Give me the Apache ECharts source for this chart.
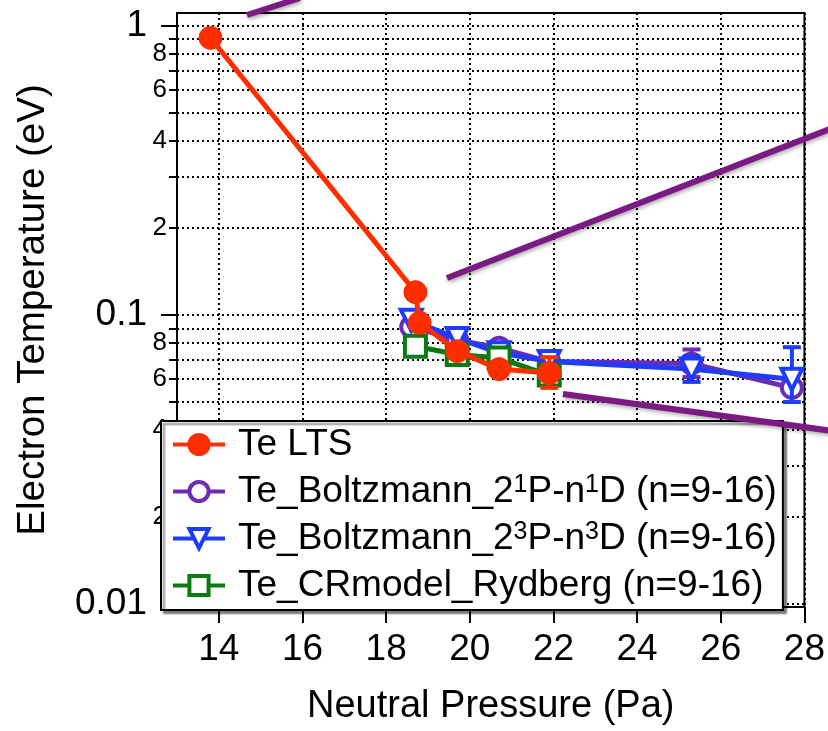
<!DOCTYPE html>
<html>
<head>
<meta charset="utf-8">
<script src="https://cdn.jsdelivr.net/npm/echarts@6/dist/echarts.min.js"></script>
<style>
  html, body { margin: 0; padding: 0; background: #fff; }
  #chart { width: 828px; height: 731px; }
</style>
</head>
<body>
<div id="chart"></div>
<script>
// Electron temperature vs neutral pressure
const pressureLTS = [13.8, 18.7, 18.8, 19.7, 20.7, 21.9];
const teLTS = [0.91, 0.12, 0.094, 0.075, 0.065, 0.063];

const pressureBoltz = [18.6, 19.7, 20.7, 21.9, 25.3, 27.7];
const teBoltzSinglet = [0.091, 0.082, 0.077, 0.069, 0.068, 0.056];
const teBoltzTriplet = [0.096, 0.083, 0.074, 0.069, 0.065, 0.060];

const pressureCR = [18.7, 19.7, 20.7, 21.9];
const teCR = [0.078, 0.073, 0.071, 0.062];

// error bars as [pressure, low, high]
const errLTS = [[21.9, 0.056, 0.0715]];
const errSinglet = [[25.3, 0.061, 0.076]];
const errTriplet = [[25.3, 0.0587, 0.072], [27.7, 0.050, 0.0774]];

const xTicks = [14, 16, 18, 20, 22, 24, 26, 28];
const yMajorTicks = [0.01, 0.1, 1];
const yMinorTicks = [0.02, 0.03, 0.04, 0.05, 0.06, 0.07, 0.08, 0.09,
                     0.2, 0.3, 0.4, 0.5, 0.6, 0.7, 0.8, 0.9];
const yMinorLabels = [0.02, 0.04, 0.06, 0.08, 0.2, 0.4, 0.6, 0.8];

const nameLTS = 'Te LTS';
const nameSinglet = 'Te_Boltzmann_2¹P-n¹D (n=9-16)';
const nameTriplet = 'Te_Boltzmann_2³P-n³D (n=9-16)';
const nameCR = 'Te_CRmodel_Rydberg (n=9-16)';

const legendRich = {};
legendRich[nameLTS] = '{g| }{t|Te LTS}';
legendRich[nameSinglet] = '{g| }{t|Te_Boltzmann_2}{s|1}{t|P-n}{s|1}{t|D (n=9-16)}';
legendRich[nameTriplet] = '{g| }{t|Te_Boltzmann_2}{s|3}{t|P-n}{s|3}{t|D (n=9-16)}';
legendRich[nameCR] = '{g| }{t|Te_CRmodel_Rydberg (n=9-16)}';

const RED = '#ff2e00', PURPLE = '#6a2db4', BLUE = '#1e3cff', GREEN = '#0b7a12';
const FONT = '"Liberation Sans", Arial, sans-serif';

const zip = (xs, ys) => xs.map((x, i) => [x, ys[i]]);

function errorBars(color) {
  return function (params, api) {
    const x = api.value(0);
    const lo = api.coord([x, api.value(1)]);
    const hi = api.coord([x, api.value(2)]);
    const w = 9;
    const style = { stroke: color, lineWidth: 4 };
    return {
      type: 'group',
      children: [
        { type: 'line', shape: { x1: lo[0], y1: lo[1], x2: hi[0], y2: hi[1] }, style },
        { type: 'line', shape: { x1: hi[0] - w, y1: hi[1], x2: hi[0] + w, y2: hi[1] }, style },
        { type: 'line', shape: { x1: lo[0] - w, y1: lo[1], x2: lo[0] + w, y2: lo[1] }, style }
      ]
    };
  };
}

function errSeries(name, data, color, z) {
  return {
    name, type: 'custom', data, z,
    encode: { x: 0, y: [1, 2] },
    renderItem: errorBars(color),
    silent: true
  };
}

const gridDots = { color: '#000', width: 2, type: [2, 3] };

const chart = echarts.init(document.getElementById('chart'), null, { renderer: 'canvas' });
chart.setOption({
  animation: false,
  backgroundColor: '#fff',
  textStyle: { fontFamily: FONT },
  grid: {
    left: 177, right: 22, top: 13, bottom: 122,
    show: true, borderColor: '#000', borderWidth: 2, backgroundColor: 'transparent'
  },
  xAxis: {
    type: 'value', min: 13, max: 28,
    name: 'Neutral Pressure (Pa)', nameLocation: 'middle', nameGap: 81,
    nameTextStyle: { fontFamily: FONT, fontSize: 38, color: '#000' },
    axisLine: { show: true, lineStyle: { color: '#000', width: 2 } },
    axisTick: { show: true, customValues: xTicks, length: 16, lineStyle: { color: '#000', width: 2 } },
    axisLabel: { customValues: xTicks, fontFamily: FONT, fontSize: 37, color: '#000', margin: 24 },
    splitLine: { show: true, lineStyle: gridDots }
  },
  yAxis: [
    {
      type: 'log', min: 0.00977, max: 1.109, logBase: 10,
      name: 'Electron Temperature (eV)', nameLocation: 'middle', nameGap: 124, nameRotate: 90,
      nameTextStyle: { fontFamily: FONT, fontSize: 38.5, color: '#000' },
      axisLine: { show: true, lineStyle: { color: '#000', width: 2 } },
      axisTick: { show: true, customValues: yMajorTicks, length: 16, lineStyle: { color: '#000', width: 2 } },
      axisLabel: {
        customValues: yMajorTicks, fontFamily: FONT, fontSize: 37, color: '#000', margin: 30,
        formatter: v => String(+(+v).toPrecision(3))
      },
      splitLine: { show: true, lineStyle: gridDots }
    },
    {
      type: 'log', min: 0.00977, max: 1.109, logBase: 10, position: 'left',
      axisLine: { show: false },
      axisTick: { show: true, customValues: yMinorTicks, length: 8, lineStyle: { color: '#000', width: 2 } },
      axisLabel: {
        customValues: yMinorLabels, fontFamily: FONT, fontSize: 26, color: '#000', margin: 10,
        formatter: v => {
          const p = Math.pow(10, Math.floor(Math.log10(+v) + 1e-9));
          return String(Math.round(+v / p));
        }
      },
      splitLine: { show: true, lineStyle: gridDots }
    }
  ],
  legend: {
    data: [nameLTS, nameSinglet, nameTriplet, nameCR],
    orient: 'vertical', left: 161, top: 421,
    padding: [5, 6, 6, 10], itemGap: 10,
    itemWidth: 52, itemHeight: 24,
    lineStyle: { width: 4 },
    itemStyle: { borderWidth: 4 },
    backgroundColor: '#fff', borderColor: '#000', borderWidth: 2, borderRadius: 0,
    shadowColor: 'rgba(0,0,0,0.45)', shadowBlur: 2, shadowOffsetX: 3, shadowOffsetY: 3,
    formatter: n => legendRich[n],
    textStyle: {
      fontFamily: FONT, fontSize: 37, color: '#000', lineHeight: 37,
      rich: {
        g: { width: 8, fontSize: 37, lineHeight: 37 },
        t: { fontFamily: FONT, fontSize: 37, color: '#000', lineHeight: 37 },
        s: { fontFamily: FONT, fontSize: 25, color: '#000', lineHeight: 22, verticalAlign: 'top' }
      }
    },
    z: 20
  },
  series: [
    errSeries('err singlet', errSinglet, PURPLE, 2),
    {
      name: nameSinglet, type: 'line', data: zip(pressureBoltz, teBoltzSinglet), z: 3,
      symbol: 'circle', symbolSize: 20,
      lineStyle: { color: PURPLE, width: 5 },
      itemStyle: { color: '#fff', borderColor: PURPLE, borderWidth: 4 }
    },
    errSeries('err triplet', errTriplet, BLUE, 4),
    {
      name: nameTriplet, type: 'line', data: zip(pressureBoltz, teBoltzTriplet), z: 5,
      symbol: 'triangle', symbolRotate: 180, symbolSize: 21,
      lineStyle: { color: BLUE, width: 5 },
      itemStyle: { color: '#fff', borderColor: BLUE, borderWidth: 4 }
    },
    {
      name: nameCR, type: 'line', data: zip(pressureCR, teCR), z: 6,
      symbol: 'rect', symbolSize: 21,
      lineStyle: { color: GREEN, width: 5 },
      itemStyle: { color: '#fff', borderColor: GREEN, borderWidth: 4 }
    },
    errSeries('err LTS', errLTS, RED, 7),
    {
      name: nameLTS, type: 'line', data: zip(pressureLTS, teLTS), z: 8,
      symbol: 'circle', symbolSize: 23,
      lineStyle: { color: RED, width: 5 },
      itemStyle: { color: RED, borderColor: RED }
    }
  ],
  graphic: [
    // purple callout lines running off the figure
    { type: 'line', z: 100, shape: { x1: 247, y1: 15, x2: 300, y2: -2 },
      style: { stroke: '#7a1a82', lineWidth: 6, shadowBlur: 4, shadowColor: 'rgba(0,0,0,0.35)', shadowOffsetX: 1, shadowOffsetY: 2 } },
    { type: 'line', z: 100, shape: { x1: 447, y1: 278, x2: 840, y2: 125 },
      style: { stroke: '#7a1a82', lineWidth: 6, shadowBlur: 4, shadowColor: 'rgba(0,0,0,0.35)', shadowOffsetX: 1, shadowOffsetY: 2 } },
    { type: 'line', z: 100, shape: { x1: 563, y1: 394, x2: 840, y2: 432 },
      style: { stroke: '#7a1a82', lineWidth: 6, shadowBlur: 4, shadowColor: 'rgba(0,0,0,0.35)', shadowOffsetX: 1, shadowOffsetY: 2 } }
  ]
});
</script>
</body>
</html>
